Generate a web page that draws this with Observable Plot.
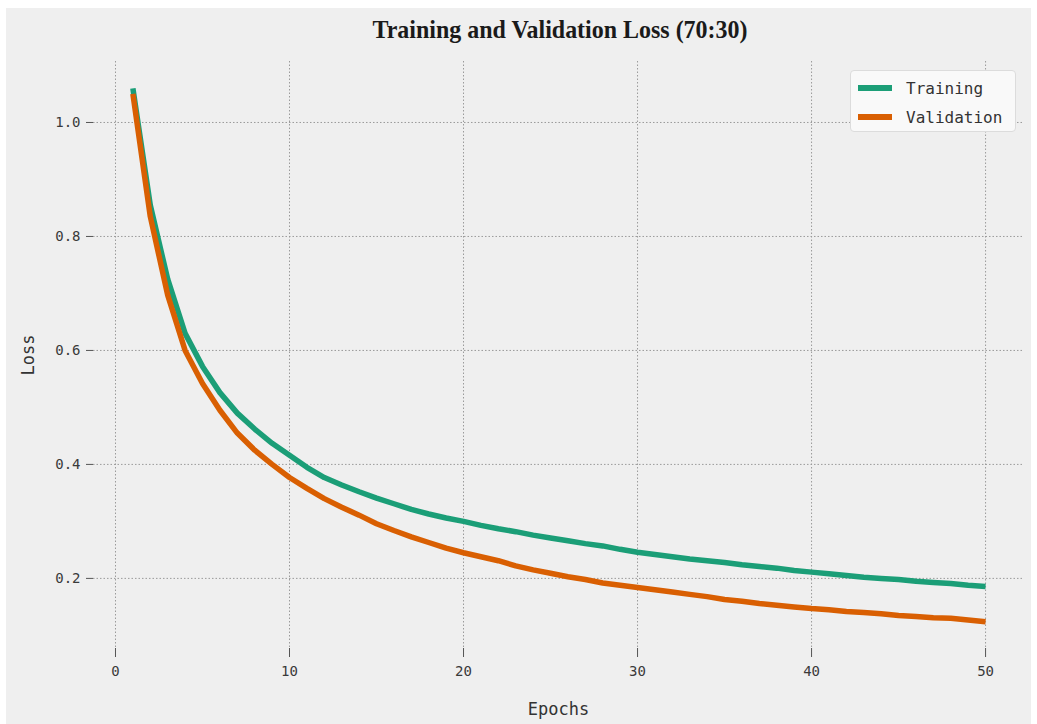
<!DOCTYPE html>
<html>
<head>
<meta charset="utf-8">
<script src="https://cdn.jsdelivr.net/npm/d3@7"></script>
<script src="https://cdn.jsdelivr.net/npm/@observablehq/plot@0.6"></script>
<style>
  html, body { margin: 0; padding: 0; background: #ffffff; }
  #fig { position: absolute; left: 6px; top: 8px; width: 1025px; height: 716px; background: #efefef; overflow: hidden; }
  #title { position: absolute; left: -6px; top: -8px; width: 1037px; }
  #chart { position: absolute; left: -6px; top: 52px; width: 1037px; }
  #chart svg { max-width: none !important; }
  #legend { position: absolute; left: 844px; top: 62px; width: 166px; height: 62px; background: #f9f9f9;
            border: 1px solid #dcdcdc; border-radius: 4px; box-sizing: border-box;
            font-family: "DejaVu Sans Mono", monospace; font-size: 16px; color: #333; }
  .item { position: absolute; left: 7px; height: 20px; display: flex; align-items: center; }
  .sw { display: inline-block; width: 34px; height: 6px; margin-right: 14px; }
</style>
</head>
<body>
<div id="fig">
  <div id="title"></div>
  <div id="chart"></div>
  <div id="legend"></div>
</div>
<script>
const epochs = d3.range(1, 51);
const trainingLoss = [
  1.060, 0.855, 0.725, 0.630, 0.572, 0.526, 0.490, 0.462, 0.437, 0.416,
  0.395, 0.377, 0.364, 0.352, 0.341, 0.331, 0.321, 0.313, 0.306, 0.300,
  0.293, 0.287, 0.282, 0.276, 0.271, 0.266, 0.261, 0.257, 0.251, 0.246,
  0.242, 0.238, 0.234, 0.231, 0.228, 0.224, 0.221, 0.218, 0.214, 0.211,
  0.208, 0.205, 0.202, 0.200, 0.198, 0.195, 0.193, 0.191, 0.188, 0.186
];
const validationLoss = [
  1.050, 0.835, 0.697, 0.600, 0.542, 0.495, 0.455, 0.425, 0.400, 0.377,
  0.358, 0.340, 0.325, 0.311, 0.296, 0.284, 0.273, 0.263, 0.253, 0.245,
  0.238, 0.231, 0.222, 0.215, 0.209, 0.203, 0.198, 0.192, 0.188, 0.184,
  0.180, 0.176, 0.172, 0.168, 0.163, 0.160, 0.156, 0.153, 0.150, 0.147,
  0.145, 0.142, 0.140, 0.138, 0.135, 0.133, 0.131, 0.130, 0.127, 0.124
];
const seriesNames = ["Training", "Validation"];
const seriesColors = ["#1b9e77", "#d95f02"];
const xTicks = [0, 10, 20, 30, 40, 50];
const yTicks = [0.2, 0.4, 0.6, 0.8, 1.0];
const titleText = "Training and Validation Loss (70:30)";

const rows = [
  ...epochs.map((e, i) => ({epoch: e, loss: trainingLoss[i], series: seriesNames[0]})),
  ...epochs.map((e, i) => ({epoch: e, loss: validationLoss[i], series: seriesNames[1]}))
];

// Title
const tsvg = d3.create("svg").attr("width", 1037).attr("height", 60);
tsvg.append("text")
  .attr("x", 560).attr("y", 38)
  .attr("text-anchor", "middle")
  .attr("font-family", "'Liberation Serif', 'Times New Roman', serif")
  .attr("font-weight", "bold")
  .attr("font-size", 26)
  .attr("fill", "#1a1a1a")
  .attr("textLength", 375)
  .attr("lengthAdjust", "spacingAndGlyphs")
  .text(titleText);
document.getElementById("title").append(tsvg.node());

const mono = "'DejaVu Sans Mono', monospace";
const chart = Plot.plot({
  width: 1037,
  height: 664,
  marginTop: 1,
  marginBottom: 76,
  marginLeft: 93,
  marginRight: 14,
  style: { background: "transparent", fontFamily: mono, fontSize: "14px", color: "#3a3a3a", maxWidth: "none" },
  x: { domain: [-1.264, 52.18] },
  y: { domain: [0.077, 1.107] },
  color: { domain: seriesNames, range: seriesColors },
  marks: [
    Plot.gridX(xTicks, { stroke: "#9a9a9a", strokeOpacity: 1, strokeDasharray: "1.5,2", strokeWidth: 1 }),
    Plot.gridY(yTicks, { stroke: "#9a9a9a", strokeOpacity: 1, strokeDasharray: "1.5,2", strokeWidth: 1 }),
    Plot.axisX(xTicks, { tickSize: 9, tickPadding: 9, stroke: "#555", tickFormat: d3.format("d"),
      label: "Epochs", labelAnchor: "center", labelArrow: "none", labelOffset: 66, fontSize: 14 }),
    Plot.axisY(yTicks, { tickSize: 7, tickPadding: 6, stroke: "#555", tickFormat: d3.format(".1f"),
      label: "Loss", labelAnchor: "center", labelArrow: "none", labelOffset: 72, fontSize: 14 }),
    Plot.line(rows, { x: "epoch", y: "loss", z: "series", stroke: "series", strokeWidth: 5.5, strokeLinejoin: "round", strokeLinecap: "butt" })
  ]
});
d3.select(chart).selectAll("[aria-label='x-axis label'] text, [aria-label='y-axis label'] text")
  .attr("font-size", 17).attr("fill", "#333");
document.getElementById("chart").append(chart);

// Legend
const leg = document.getElementById("legend");
seriesNames.forEach((name, i) => {
  const it = document.createElement("div");
  it.className = "item";
  it.style.top = (7 + i * 29) + "px";
  const sw = document.createElement("span");
  sw.className = "sw";
  sw.style.background = seriesColors[i];
  it.append(sw, document.createTextNode(name));
  leg.append(it);
});
</script>
</body>
</html>
